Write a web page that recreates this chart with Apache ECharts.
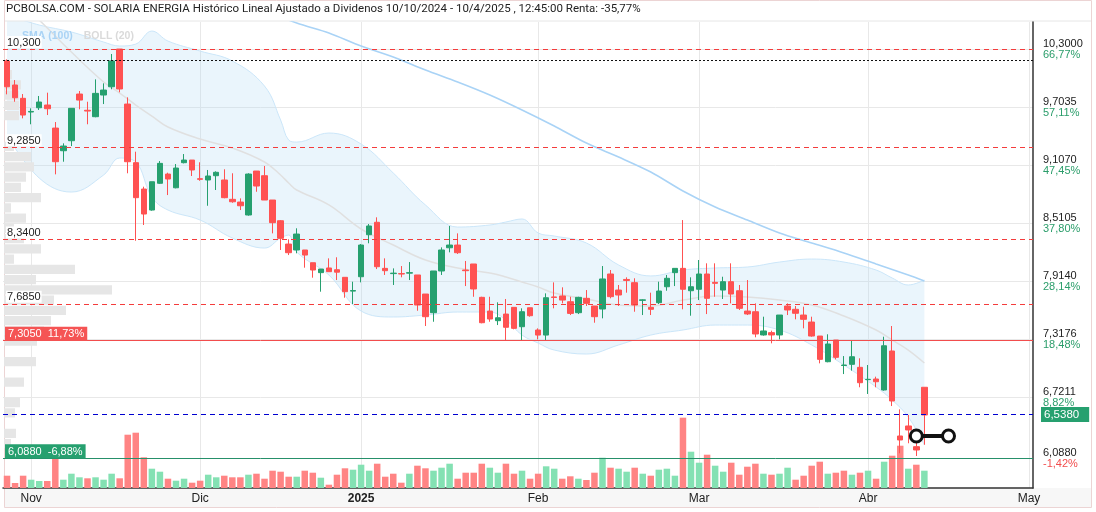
<!DOCTYPE html>
<html>
<head>
<meta charset="utf-8">
<title>SOLARIA ENERGIA</title>
<script src="https://cdn.jsdelivr.net/npm/echarts@6.0.0/dist/echarts.min.js"></script>
<style>
  html, body { margin: 0; padding: 0; background: #fff; }
  #chart { width: 1096px; height: 512px; }
</style>
</head>
<body>
<div id="chart"></div>
<script>
// trading calendar (categories)
const FIRST_DAY = '2024-10-29'
const LAST_DAY = '2025-05-02'
const HOLIDAYS = ['2024-12-25', '2024-12-26', '2025-01-01', '2025-04-18', '2025-04-21', '2025-05-01']
const MONTHS = ['Ene', 'Feb', 'Mar', 'Abr', 'May', 'Jun', 'Jul', 'Ago', 'Sep', 'Oct', 'Nov', 'Dic']

// daily candles: [open, close, low, high]
const OHLC = [
  [10.177, 9.912, 9.834, 10.194], [9.930, 9.799, 9.758, 9.981], [9.793, 9.621, 9.587, 9.837],
  [9.652, 9.658, 9.526, 9.690], [9.696, 9.755, 9.673, 9.817], [9.724, 9.686, 9.621, 9.851],
  [9.487, 9.141, 9.011, 9.549], [9.254, 9.302, 9.141, 9.330], [9.357, 9.690, 9.302, 9.690],
  [9.837, 9.775, 9.680, 9.868], [9.670, 9.662, 9.526, 9.758], [9.604, 9.844, 9.598, 9.988],
  [9.827, 9.878, 9.734, 9.947], [9.912, 10.177, 9.886, 10.249], [10.300, 9.889, 9.855, 10.300],
  [9.734, 9.141, 9.022, 9.803], [9.131, 8.771, 8.328, 9.244], [8.860, 8.603, 8.490, 8.884],
  [8.644, 8.935, 8.637, 8.935], [8.919, 9.124, 8.912, 9.148], [9.014, 8.963, 8.798, 9.028],
  [8.873, 9.076, 8.867, 9.117], [9.131, 9.158, 9.124, 9.220], [9.158, 9.056, 8.994, 9.158],
  [8.966, 8.960, 8.945, 9.135], [8.953, 8.994, 8.688, 9.056], [8.997, 9.032, 8.850, 9.042],
  [8.953, 8.771, 8.765, 9.063], [8.754, 8.729, 8.719, 9.022], [8.726, 8.688, 8.644, 8.764],
  [8.593, 9.014, 8.586, 9.022], [9.045, 8.891, 8.832, 9.045], [8.997, 8.747, 8.747, 9.097],
  [8.747, 8.514, 8.404, 8.747], [8.534, 8.353, 8.233, 8.541], [8.294, 8.205, 8.181, 8.343],
  [8.233, 8.397, 8.199, 8.456], [8.233, 8.181, 8.051, 8.233], [8.102, 8.027, 7.948, 8.102],
  [8.000, 8.037, 7.804, 8.037], [8.048, 8.010, 8.010, 8.147], [8.030, 8.005, 7.924, 8.158],
  [7.952, 7.804, 7.742, 7.952], [7.810, 7.816, 7.677, 7.907], [7.958, 8.284, 7.900, 8.294],
  [8.390, 8.480, 8.302, 8.500], [8.518, 8.061, 8.037, 8.569], [8.044, 8.020, 7.976, 8.147],
  [7.990, 7.995, 7.873, 8.044], [7.990, 7.986, 7.952, 8.068], [7.995, 8.000, 7.924, 8.109],
  [7.976, 7.667, 7.608, 7.976], [7.780, 7.547, 7.451, 7.780], [7.588, 8.017, 7.495, 8.017],
  [8.017, 8.233, 7.976, 8.260], [8.256, 8.284, 8.209, 8.480], [8.284, 8.205, 8.192, 8.404],
  [8.027, 8.020, 7.862, 8.120], [8.089, 7.832, 7.752, 8.089], [7.746, 7.485, 7.479, 7.752],
  [7.605, 7.523, 7.495, 7.752], [7.506, 7.536, 7.461, 7.695], [7.574, 7.438, 7.307, 7.729],
  [7.643, 7.427, 7.417, 7.643], [7.444, 7.598, 7.307, 7.633], [7.639, 7.557, 7.547, 7.639],
  [7.410, 7.358, 7.314, 7.427], [7.358, 7.742, 7.307, 7.787], [7.750, 7.745, 7.633, 7.900],
  [7.760, 7.718, 7.684, 7.849], [7.701, 7.581, 7.564, 7.752], [7.588, 7.746, 7.574, 7.752],
  [7.736, 7.684, 7.657, 7.821], [7.657, 7.547, 7.485, 7.657], [7.626, 7.935, 7.530, 8.068],
  [7.986, 7.753, 7.736, 8.027], [7.821, 7.770, 7.657, 7.873], [7.930, 7.920, 7.794, 7.952],
  [7.897, 7.667, 7.598, 7.942], [7.715, 7.720, 7.564, 7.725], [7.643, 7.623, 7.564, 7.794],
  [7.691, 7.811, 7.677, 7.907], [7.855, 7.942, 7.814, 7.976], [8.000, 8.044, 7.862, 8.044],
  [8.044, 7.829, 7.623, 8.541], [7.814, 7.855, 7.557, 7.952], [7.829, 7.986, 7.718, 8.130],
  [7.986, 7.736, 7.574, 8.096], [7.900, 7.890, 7.752, 8.096], [7.821, 7.907, 7.729, 7.958],
  [7.907, 7.780, 7.684, 8.096], [7.814, 7.633, 7.616, 7.873], [7.605, 7.575, 7.564, 7.924],
  [7.598, 7.369, 7.335, 7.684], [7.359, 7.400, 7.352, 7.547], [7.383, 7.359, 7.273, 7.403],
  [7.359, 7.564, 7.314, 7.564], [7.657, 7.616, 7.564, 7.684], [7.623, 7.582, 7.520, 7.657],
  [7.564, 7.520, 7.427, 7.650], [7.492, 7.348, 7.341, 7.547], [7.348, 7.108, 7.067, 7.348],
  [7.084, 7.266, 7.078, 7.366], [7.307, 7.129, 7.108, 7.307], [7.045, 7.050, 6.957, 7.142],
  [7.057, 7.135, 6.992, 7.307], [7.026, 6.868, 6.821, 7.119], [6.900, 6.903, 6.752, 7.050],
  [6.906, 6.878, 6.821, 6.930], [6.793, 7.248, 6.786, 7.341], [7.194, 6.680, 6.628, 7.451],
  [6.320, 6.279, 6.142, 6.594], [6.423, 6.382, 6.245, 6.536], [6.210, 6.176, 6.114, 6.261],
  [6.821, 6.536, 6.230, 6.821]
]

// daily volume, thousands of shares
const VOLUME = [
  246, 100, 246, 166, 140, 140, 614, 166, 286, 214, 194, 214, 166, 286, 194, 1066, 1106, 614,
  386, 326, 186, 146, 186, 106, 146, 266, 214, 246, 214, 214, 266, 286, 186, 346, 326, 226,
  226, 346, 306, 206, 66, 266, 394, 366, 466, 346, 486, 226, 286, 106, 286, 446, 394, 346,
  406, 486, 186, 306, 306, 486, 406, 306, 486, 286, 346, 186, 286, 434, 386, 186, 234, 186,
  160, 306, 606, 406, 386, 326, 406, 286, 246, 366, 386, 246, 1406, 726, 506, 666, 446, 326,
  506, 266, 426, 486, 286, 266, 286, 406, 166, 246, 446, 526, 286, 306, 346, 266, 306, 346,
  186, 526, 646, 846, 386, 466, 346
]

// Bollinger (20) read at some sessions (index into the calendar)
const BOLL_IDX = [0, 4, 8, 12, 14, 16, 18, 20, 24, 28, 32, 34, 35, 36, 40, 44, 48, 52, 56, 60, 62, 64, 66, 68, 72, 76, 80, 84, 88, 92, 96, 100, 104, 108, 110, 112, 114]
const BOLL_UP = [10.650, 10.547, 10.475, 10.372, 10.331, 10.351, 10.485, 10.382, 10.279, 10.177, 9.919, 9.570, 9.364, 9.343, 9.436, 9.323, 9.025, 8.696, 8.469, 8.490, 8.521, 8.552, 8.408, 8.377, 8.305, 8.079, 7.966, 8.027, 8.048, 8.058, 8.109, 8.140, 8.109, 8.027, 7.945, 7.873, 7.924]
const BOLL_MID = [10.907, 10.598, 10.269, 9.961, 9.847, 9.724, 9.611, 9.498, 9.374, 9.282, 9.138, 9.004, 8.922, 8.850, 8.696, 8.449, 8.284, 8.130, 8.048, 7.996, 7.955, 7.904, 7.852, 7.790, 7.729, 7.667, 7.657, 7.718, 7.760, 7.749, 7.718, 7.667, 7.554, 7.410, 7.307, 7.204, 7.071]
const BOLL_LOW = [9.415, 8.973, 8.829, 9.004, 9.179, 9.138, 8.778, 8.644, 8.541, 8.356, 8.253, 8.356, 8.387, 8.212, 7.976, 7.605, 7.544, 7.564, 7.595, 7.595, 7.513, 7.358, 7.276, 7.204, 7.163, 7.256, 7.358, 7.410, 7.461, 7.461, 7.410, 7.256, 7.050, 6.824, 6.690, 6.515, 6.227]

// SMA (100)
const SMA_IDX = [32, 36, 40, 44, 48, 52, 56, 60, 64, 68, 72, 76, 80, 84, 88, 92, 96, 100, 104, 108, 112, 114]
const SMA_VAL = [10.701, 10.567, 10.465, 10.331, 10.218, 10.084, 9.961, 9.827, 9.673, 9.508, 9.333, 9.189, 9.035, 8.840, 8.675, 8.541, 8.408, 8.305, 8.202, 8.089, 7.976, 7.914]

// volume at price, top bin first (thousands)
const PROFILE_TOP = 10.3
const PROFILE_STEP = 0.1054
const PROFILE_VOL = [
  0, 250, 400, 850, 750, 750, 750, 0, 0, 500, 1350, 1500, 1100, 850, 1850, 350, 1100, 500, 1000, 1850,
  500, 3550, 1600, 5400, 2500, 3100, 2350, 2000, 1650, 0, 1600, 0, 1000, 0, 800, 550, 0, 600, 350, 0
]

// right axis ticks
const TICKS = [10.3, 9.7035, 9.107, 8.5105, 7.914, 7.3176, 6.7211, 6.088]
const TICK_TEXT = ['10,3000', '9,7035', '9,1070', '8,5105', '7,9140', '7,3176', '6,7211', '6,0880']
const TICK_PCT = ['66,77%', '57,11%', '47,45%', '37,80%', '28,14%', '18,48%', '8,82%', '-1,42%']

// horizontal levels
const LEVELS = [10.3, 9.285, 8.34, 7.685]
const LEVEL_TEXT = ['10,300', '9,2850', '8,3400', '7,6850']
const START_LEVEL = 10.177
const RESIST = 7.305
const RESIST_TEXT = '7,3050  11,73%'
const SUPPORT = 6.088
const SUPPORT_TEXT = '6,0880  -6,88%'
const LAST = 6.538
const LAST_TEXT = '6,5380'
const TOOL_LEVEL = 6.32
const TOOL_FROM = 113
const TOOL_TO = 117

const TITLE = 'PCBOLSA.COM - SOLARIA ENERGIA Histórico Lineal Ajustado a Dividenos 10/10/2024 - 10/4/2025 , 12:45:00 Renta: -35,77%'

const UP = '#26a06f'
const DOWN = '#ff5252'
const LEVEL_RED = '#f43c3c'

function tradingDays (from, to) {
  const out = []
  const d = new Date(from + 'T00:00:00Z')
  const end = new Date(to + 'T00:00:00Z')
  while (d <= end) {
    const iso = d.toISOString().slice(0, 10)
    const wd = d.getUTCDay()
    if (wd !== 0 && wd !== 6 && HOLIDAYS.indexOf(iso) < 0) out.push(iso)
    d.setUTCDate(d.getUTCDate() + 1)
  }
  return out
}

const DATES = tradingDays(FIRST_DAY, LAST_DAY)
const isMonthStart = (i) => i > 0 && DATES[i].slice(5, 7) !== DATES[i - 1].slice(5, 7)
const profileBins = PROFILE_VOL.map((v, k) => (PROFILE_TOP - k * PROFILE_STEP).toFixed(3))

// volume colour follows the close against the previous close
const volumeData = VOLUME.map((v, i) => {
  const up = i === 0 ? OHLC[i][1] >= OHLC[i][0] : OHLC[i][1] >= OHLC[i - 1][1]
  return { value: v, itemStyle: { color: up ? '#84e1b3' : '#ff8484' } }
})

const chart = echarts.init(document.getElementById('chart'))

chart.setOption({
  animation: false,
  backgroundColor: '#fff',
  textStyle: { fontFamily: 'Liberation Sans, Arial, sans-serif' },
  title: {
    text: TITLE, left: 4, top: 3, padding: [0, 2],
    textStyle: { fontSize: 11.5, fontWeight: 'normal', color: '#222', fontFamily: 'Roboto, sans-serif' }
  },
  legend: {
    left: 12, top: 26, itemWidth: 0, itemHeight: 0, itemGap: 6, selectedMode: false,
    textStyle: { fontWeight: 'bold', fontSize: 10.5 },
    data: [
      { name: 'SMA (100)', icon: 'none', textStyle: { color: '#a9d3f5' } },
      { name: 'BOLL (20)', icon: 'none', textStyle: { color: '#dadada' } }
    ]
  },
  graphic: [
    { type: 'rect', z: -10, shape: { x: 4, y: 488, width: 1088, height: 19 }, style: { fill: '#f7f7f7' } },
    { type: 'line', z: -10, shape: { x1: 4, y1: 21, x2: 1092, y2: 21 }, style: { stroke: '#e6e6e6', lineWidth: 1 } },
    { type: 'rect', z: -10, shape: { x: 4.5, y: 0.5, width: 1087, height: 507 }, style: { fill: null, stroke: '#ecd4d4', lineWidth: 1 } }
  ],
  grid: [
    { left: 3, right: 63, top: 22, bottom: 24, outerBoundsMode: 'none' },
    { left: 3, right: 63, top: 22, bottom: 24, outerBoundsMode: 'none' },
    { left: 4, right: 63, top: 49, bottom: 53, outerBoundsMode: 'none' }
  ],
  xAxis: [
    {
      type: 'category', gridIndex: 0, data: DATES, boundaryGap: true,
      axisLine: { lineStyle: { color: '#333', width: 1.5 } },
      axisTick: { show: false },
      axisLabel: {
        interval: (i) => isMonthStart(i), margin: 5, color: '#222', fontSize: 12,
        formatter: (value) => {
          const m = +value.slice(5, 7)
          return m === 1 ? '{y|' + value.slice(0, 4) + '}' : MONTHS[m - 1]
        },
        rich: { y: { fontWeight: 'bold', fontSize: 12, color: '#222' } }
      },
      splitLine: { show: true, interval: (i) => isMonthStart(i), alignWithLabel: true, lineStyle: { color: '#e8e8e8' } }
    },
    { type: 'category', gridIndex: 1, data: DATES, boundaryGap: true, show: false },
    { type: 'value', gridIndex: 2, min: 0, max: 51450, show: false }
  ],
  yAxis: [
    {
      type: 'value', gridIndex: 0, position: 'right', min: 5.785, max: 10.578,
      axisLine: { show: true, lineStyle: { color: '#333', width: 1.5 } },
      axisTick: { show: false, customValues: TICKS },
      axisLabel: {
        customValues: TICKS, margin: 10,
        formatter: (value) => {
          const k = TICKS.findIndex((t) => Math.abs(t - value) < 1e-6)
          if (k < 0) return ''
          const pct = TICK_PCT[k].charAt(0) === '-' ? 'n' : 'p'
          return '{v|' + TICK_TEXT[k] + '}\n{' + pct + '|' + TICK_PCT[k] + '}'
        },
        rich: {
          v: { color: '#222', fontSize: 11, lineHeight: 11 },
          p: { color: '#2a9d6a', fontSize: 11, lineHeight: 11 },
          n: { color: '#f24d4d', fontSize: 11, lineHeight: 11 }
        }
      },
      splitLine: { show: true, lineStyle: { color: '#e8e8e8' } }
    },
    { type: 'value', gridIndex: 1, min: 0, max: 9320, show: false },
    { type: 'category', gridIndex: 2, data: profileBins, inverse: true, show: false }
  ],
  series: [
    {
      name: 'band-low', type: 'line', xAxisIndex: 0, yAxisIndex: 0, stack: 'boll', smooth: 0.4,
      symbol: 'none', silent: true, z: 1,
      lineStyle: { color: '#cbe6f9', width: 1 },
      data: BOLL_IDX.map((i, k) => [i, BOLL_LOW[k]])
    },
    {
      name: 'band', type: 'line', xAxisIndex: 0, yAxisIndex: 0, stack: 'boll', smooth: 0.4,
      symbol: 'none', silent: true, z: 1,
      lineStyle: { color: '#cbe6f9', width: 1 },
      areaStyle: { color: 'rgba(170, 214, 245, 0.36)' },
      data: BOLL_IDX.map((i, k) => [i, BOLL_UP[k] - BOLL_LOW[k]])
    },
    {
      name: 'BOLL (20)', type: 'line', xAxisIndex: 0, yAxisIndex: 0, smooth: 0.4,
      symbol: 'none', silent: true, z: 2,
      lineStyle: { color: '#e0e0e0', width: 1.5 },
      data: BOLL_IDX.map((i, k) => [i, BOLL_MID[k]])
    },
    {
      name: 'SMA (100)', type: 'line', xAxisIndex: 0, yAxisIndex: 0, smooth: 0.3,
      symbol: 'none', silent: true, z: 2,
      lineStyle: { color: '#a9d3f6', width: 1.6 },
      data: SMA_IDX.map((i, k) => [i, SMA_VAL[k]])
    },
    {
      name: 'profile', type: 'bar', xAxisIndex: 2, yAxisIndex: 2, silent: true, z: 3,
      barCategoryGap: '10%', itemStyle: { color: '#e6e6e6' },
      data: PROFILE_VOL
    },
    {
      name: 'volume', type: 'bar', xAxisIndex: 1, yAxisIndex: 1, silent: true, z: 3,
      barWidth: 6.5, data: volumeData
    },
    {
      name: 'price', type: 'candlestick', xAxisIndex: 0, yAxisIndex: 0, z: 4, barWidth: 6,
      itemStyle: { color: UP, color0: DOWN, borderColor: UP, borderColor0: DOWN, borderWidth: 1 },
      data: OHLC,
      markLine: {
        silent: true, symbol: ['none', 'none'], animation: false,
        data: [
          { yAxis: START_LEVEL, lineStyle: { color: '#111', type: [2, 2], width: 1 }, label: { show: false } },
          {
            yAxis: RESIST, lineStyle: { color: '#f24d4d', type: 'solid', width: 1 },
            label: {
              show: true, position: 'insideStartTop', formatter: RESIST_TEXT, distance: [2, 0],
              color: '#fff', fontSize: 11, backgroundColor: '#f55454', padding: [2, 3, 1, 3]
            }
          },
          {
            yAxis: LAST, lineStyle: { color: '#0000d0', type: [5, 4], width: 1 },
            label: {
              show: true, position: 'end', formatter: LAST_TEXT, distance: 8,
              color: '#fff', fontSize: 11.5, backgroundColor: '#26a06f', padding: [2, 10, 1, 3]
            }
          },
          {
            yAxis: SUPPORT, lineStyle: { color: '#26906a', type: 'solid', width: 1 },
            label: {
              show: true, position: 'insideStartTop', formatter: SUPPORT_TEXT, distance: [2, 0],
              color: '#fff', fontSize: 11, backgroundColor: '#26a06f', padding: [2, 3, 1, 3]
            }
          },
          [
            { coord: [TOOL_FROM, TOOL_LEVEL], lineStyle: { color: '#111', width: 4, type: 'solid' }, label: { show: false } },
            { coord: [TOOL_TO, TOOL_LEVEL] }
          ]
        ]
      },
      markPoint: {
        silent: true, symbol: 'circle', symbolSize: 12, animation: false,
        itemStyle: { color: '#fff', borderColor: '#111', borderWidth: 3 },
        label: { show: false },
        data: [{ coord: [TOOL_FROM, TOOL_LEVEL] }, { coord: [TOOL_TO, TOOL_LEVEL] }]
      }
    },
    {
      name: 'levels', type: 'line', xAxisIndex: 0, yAxisIndex: 0, z: 6, data: [], silent: true,
      markLine: {
        silent: true, symbol: ['none', 'none'], animation: false,
        lineStyle: { color: LEVEL_RED, type: [5, 4], width: 1 },
        label: {
          show: true, position: 'insideStartTop', distance: [3, 1],
          formatter: (p) => LEVEL_TEXT[p.dataIndex],
          color: '#222', fontSize: 11, backgroundColor: '#fff', padding: [1, 1, 0, 1]
        },
        data: LEVELS.map((v) => ({ yAxis: v }))
      }
    }
  ]
})
</script>
</body>
</html>
